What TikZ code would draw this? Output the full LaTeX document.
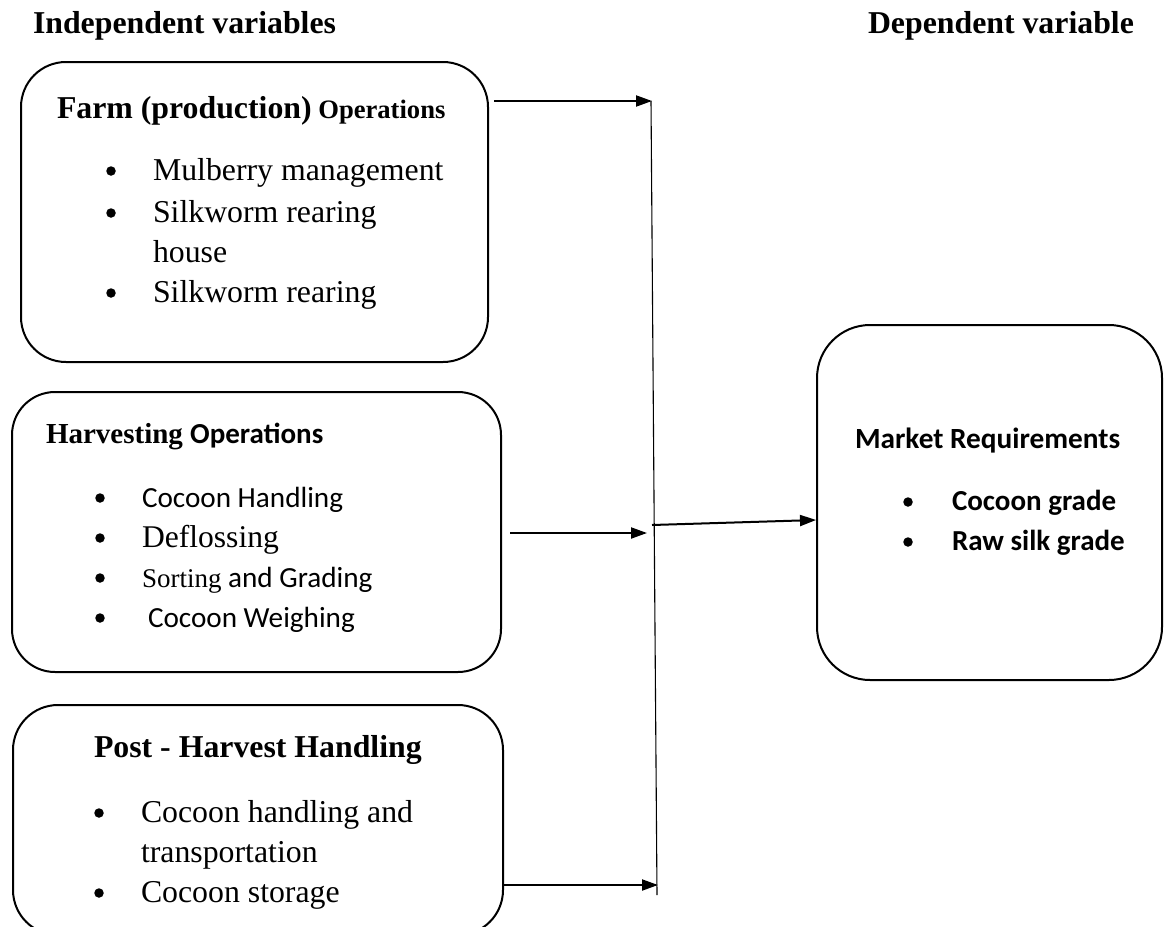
\documentclass[tikz,border=0pt]{standalone}
\usepackage{fontspec}
\setmainfont{Liberation Serif}
\newfontfamily\tnr{Liberation Serif}
\newfontfamily\calib{Carlito}
\usetikzlibrary{arrows.meta}
\newcommand{\fsz}[1]{\fontsize{#1}{#1}\selectfont}
\tikzset{
  box/.style={draw, line width=2pt, rounded corners=45pt, inner sep=0pt},
  txt/.style={anchor=base west, inner sep=0pt, outer sep=0pt},
  bul/.style={circle, fill=black, inner sep=0pt, minimum size=9.5pt},
  arr/.style={line width=2pt, -{Triangle[length=16pt,width=11pt]}},
  vline/.style={line width=1.1pt},
}
\begin{document}
\begin{tikzpicture}[x=1pt,y=-1pt]
\useasboundingbox (0,0) rectangle (1166,926);
\clip (0,0) rectangle (1166,926);
% headers
\node[txt] (hind) at (33,33) {\tnr\bfseries\fsz{31.8}Independent variables};
\node[txt] (hdep) at (868,33) {\tnr\bfseries\fsz{31.8}Dependent variable};
% boxes
\node[box, minimum width=467pt, minimum height=300pt] (b1) at (254.5,212) {};
\node[box, rounded corners=43pt, minimum width=489pt, minimum height=280pt] (b2) at (256.5,532) {};
\node[box, minimum width=490pt, minimum height=230pt] (b3) at (258,820) {};
\node[box, rounded corners=53pt, minimum width=345pt, minimum height=355pt] (b4) at (989.5,502.5) {};
% box 1 text
\node[txt] (t1) at (57,118) {\tnr\bfseries\fsz{31.8}Farm (production)\fsz{26.6} Operations};
\node[bul] (p11) at (111,171) {};
\node[txt] (i11) at (153,180) {\tnr\fsz{31.8}Mulberry management};
\node[bul] (p12) at (111,213) {};
\node[txt] (i12) at (153,222) {\tnr\fsz{31.8}Silkworm rearing};
\node[txt] (i12b) at (153,262) {\tnr\fsz{31.8}house};
\node[bul] (p13) at (111,293) {};
\node[txt] (i13) at (153,302) {\tnr\fsz{31.8}Silkworm rearing};
% box 2 text
\node[txt] (t2) at (46,443) {\tnr\bfseries\fsz{29}Harvesting \calib Operations};
\node[bul] (p21) at (100,498) {};
\node[txt] (i21) at (142,507) {\calib\fsz{29.2}Cocoon Handling};
\node[bul] (p22) at (100,538) {};
\node[txt] (i22) at (142,547) {\tnr\fsz{31.6}Deflossing};
\node[bul] (p23) at (100,578) {};
\node[txt] (i23) at (142,587) {\tnr\fsz{27}Sorting\calib\fsz{29.2} and Grading};
\node[bul] (p24) at (100,618) {};
\node[txt] (i24) at (148,627) {\calib\fsz{29.2}Cocoon Weighing};
% box 3 text
\node[txt] (t3) at (94,757) {\tnr\bfseries\fsz{31.8}Post - Harvest Handling};
\node[bul] (p31) at (99,813) {};
\node[txt] (i31) at (141,822) {\tnr\fsz{31.8}Cocoon handling and};
\node[txt] (i31b) at (141,862) {\tnr\fsz{31.8}transportation};
\node[bul] (p32) at (99,893) {};
\node[txt] (i32) at (141,902) {\tnr\fsz{31.8}Cocoon storage};
% box 4 text
\node[txt] (t4) at (855,448) {\calib\bfseries\fsz{29.3}Market Requirements};
\node[bul] (p41) at (908,502) {};
\node[txt] (i41) at (952,510) {\calib\bfseries\fsz{29}Cocoon grade};
\node[bul] (p42) at (908,542) {};
\node[txt] (i42) at (952,550) {\calib\bfseries\fsz{29}Raw silk grade};
% connectors
\coordinate (vtop) at (651,101);
\coordinate (vbot) at (657,895);
\coordinate (vmid) at (652,525);
\coordinate (e1) at (652,101);
\coordinate (e2) at (647,533);
\coordinate (e3) at (658,885);
\draw[vline] (vtop) -- (vbot);
\draw[arr] ([xshift=5pt]b1.east |- e1) -- (e1);
\draw[arr] ([xshift=8pt]b2.east |- e2) -- (e2);
\draw[arr] (b3.east |- e3) -- (e3);
\draw[arr] (vmid) -- ([yshift=-17.5pt]b4.west);
\end{tikzpicture}
\end{document}
